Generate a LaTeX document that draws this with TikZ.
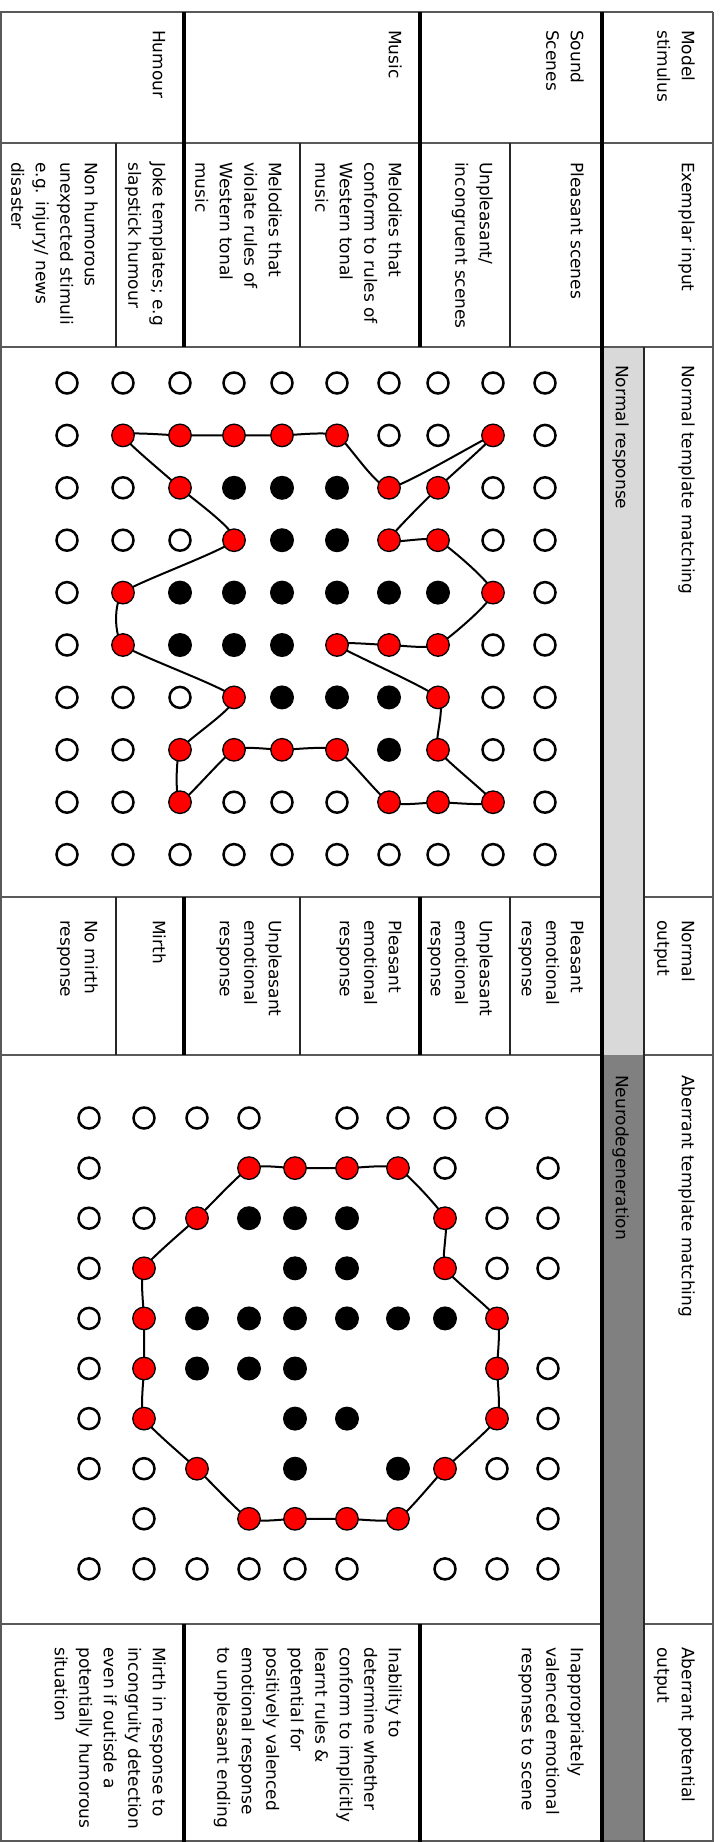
\documentclass[tikz,border=0pt]{standalone}
\usepackage{fontspec}
\setmainfont{DejaVu Sans}
\usetikzlibrary{backgrounds}
\begin{document}
\begin{tikzpicture}[x=1pt,y=-1pt]
\tikzset{
  txt/.style={rotate=-90, anchor=north west, align=left, inner sep=0pt,
    font=\fontsize{17}{24.5}\selectfont, execute at begin node=\vphantom{Ml}},
  opendot/.style={circle, draw=black, line width=2.5pt, fill=white, minimum size=21pt, inner sep=0pt},
  reddot/.style={circle, draw=black, line width=1.3pt, fill=red, minimum size=22.5pt, inner sep=0pt},
  blackdot/.style={circle, fill=black, minimum size=24pt, inner sep=0pt},
  hrule/.style={draw=black!65, line width=1.8pt},
  vfine/.style={draw=black!85, line width=1.5pt},
  vheavy/.style={draw=black, line width=4.2pt},
  outline/.style={line width=2pt, draw=black, line join=round}
}
\useasboundingbox (0,0) rectangle (720,1842);
% gray bands
\fill[black!15] (602,347) rectangle (644,1055);
\fill[black!50] (602,1055) rectangle (644,1842);
% horizontal rules
\draw[hrule] (0,12) -- (713,12);
\draw[hrule] (0,143) -- (713,143);
\draw[hrule] (0,347) -- (713,347);
\draw[hrule] (0,897) -- (602,897) (644,897) -- (713,897);
\draw[hrule] (0,1055) -- (602,1055) (644,1055) -- (713,1055);
\draw[hrule] (0,1624) -- (602,1624) (644,1624) -- (713,1624);
\draw[hrule] (0,1841) -- (713,1841);
% borders
\draw[hrule] (1,12) -- (1,1842);
\draw[hrule] (713,12) -- (713,1842);
% vertical rules
\draw[vfine] (644,347) -- (644,1842);
\foreach \x in {116,300,510}{
  \draw[vfine] (\x,143) -- (\x,347) (\x,897) -- (\x,1055);
}
\foreach \x in {184,420}{
  \draw[vheavy] (\x,12) -- (\x,347) (\x,897) -- (\x,1055) (\x,1624) -- (\x,1842);
}
\draw[vheavy] (602,12) -- (602,1842);

% header row
\node[txt] (hmodel) at (695,30) {Model\\stimulus};
\node[txt] (hsound) at (584,30) {Sound\\Scenes};
\node[txt] (hmusic) at (402,30) {Music};
\node[txt] (hhumour) at (166,30) {Humour};
% exemplar row
\node[txt] (eex) at (695,162) {Exemplar input};
\node[txt] (e1) at (584,162) {Pleasant scenes};
\node[txt] (e2) at (493,162) {Unpleasant/\\incongruent scenes};
\node[txt] (e3) at (402,162) {Melodies that\\conform to rules of\\Western tonal\\music};
\node[txt] (e4) at (282,162) {Melodies that\\violate rules of\\Western tonal\\music};
\node[txt] (e5) at (166,162) {Joke templates; e.g\\slapstick humour};
\node[txt] (e6) at (98,162) {Non humorous\\unexpected stimuli\\e.g. injury/ news\\disaster};
% normal grid row labels
\node[txt] (ntm) at (695,365) {Normal template matching};
\node[txt] (nresp) at (629,365) {Normal response};
% normal output row
\node[txt] (no) at (695,920) {Normal\\output};
\node[txt] (o1) at (584,920) {Pleasant\\emotional\\response};
\node[txt] (o2) at (493,920) {Unpleasant\\emotional\\response};
\node[txt] (o3) at (402,920) {Pleasant\\emotional\\response};
\node[txt] (o4) at (282,920) {Unpleasant\\emotional\\response};
\node[txt] (o5) at (166,920) {Mirth};
\node[txt] (o6) at (98,920) {No mirth\\response};
% aberrant grid row labels
\node[txt] (atm) at (695,1075) {Aberrant template matching};
\node[txt] (aneuro) at (629,1075) {Neurodegeneration};
% aberrant output row
\node[txt] (ao) at (695,1647) {Aberrant potential\\output};
\node[txt] (a1) at (584,1647) {Inappropriately\\valenced emotional\\responses to scene};
\node[txt] (a2) at (402,1647) {Inability to\\determine whether\\conform to implicitly\\learnt rules \&\\potential for\\positively valenced\\emotional response\\to unpleasant ending};
\node[txt] (a3) at (166,1647) {Mirth in response to\\incongruity detection\\even if outisde a\\potentially humorous\\situation};

% ---------- normal grid ----------
\def\NX{{67,123,180,234,282,337,389,438,493,545}}
\foreach \j/\L in {0/{0,1,2,3,4,5,6,7,8,9},1/{0,6,7,9},2/{0,1,8,9},3/{0,1,2,8,9},4/{0,9},5/{0,8,9},6/{0,1,2,8,9},7/{0,1,8,9},8/{0,1,3,4,5,9},9/{0,1,2,3,4,5,6,7,8,9}}{
  \foreach \i in \L {
    \pgfmathsetmacro\xx{\NX[\i]}
    \pgfmathsetmacro\yy{383+52.4*\j}
    \node[opendot] (n-\i-\j) at (\xx,\yy) {};
  }
}
\foreach \i/\j in {3/2,4/2,5/2,4/3,5/3,2/4,3/4,4/4,5/4,6/4,7/4,2/5,3/5,4/5,4/6,5/6,6/6,6/7}{
  \pgfmathsetmacro\xx{\NX[\i]}
  \pgfmathsetmacro\yy{383+52.4*\j}
  \node[blackdot] (n-\i-\j) at (\xx,\yy) {};
}
\foreach \i/\j in {1/1,2/1,3/1,4/1,5/1,8/1,2/2,6/2,7/2,3/3,6/3,7/3,1/4,8/4,1/5,5/5,6/5,7/5,3/6,7/6,2/7,3/7,4/7,5/7,7/7,2/8,6/8,7/8,8/8}{
  \pgfmathsetmacro\xx{\NX[\i]}
  \pgfmathsetmacro\yy{383+52.4*\j}
  \node[reddot] (n-\i-\j) at (\xx,\yy) {};
}
% ---------- aberrant grid ----------
\def\AX{{89,144,197,249,295,347,398,445,497,548}}
\foreach \j/\L in {0/{0,1,2,3,5,6,7,8},1/{0,7,9},2/{0,1,8,9},3/{0,8,9},4/{0},5/{0,9},6/{0,9},7/{0,1,8,9},8/{1,9},9/{0,1,2,3,4,5,7,8,9}}{
  \foreach \i in \L {
    \pgfmathsetmacro\xx{\AX[\i]}
    \pgfmathsetmacro\yy{1118+50.1*\j}
    \node[opendot] (a-\i-\j) at (\xx,\yy) {};
  }
}
\foreach \i/\j in {3/2,4/2,5/2,4/3,5/3,2/4,3/4,4/4,5/4,6/4,7/4,2/5,3/5,4/5,4/6,5/6,4/7,6/7}{
  \pgfmathsetmacro\xx{\AX[\i]}
  \pgfmathsetmacro\yy{1118+50.1*\j}
  \node[blackdot] (a-\i-\j) at (\xx,\yy) {};
}
\foreach \i/\j in {3/1,4/1,5/1,6/1,2/2,7/2,1/3,7/3,1/4,8/4,1/5,8/5,1/6,8/6,2/7,7/7,3/8,4/8,5/8,6/8}{
  \pgfmathsetmacro\xx{\AX[\i]}
  \pgfmathsetmacro\yy{1118+50.1*\j}
  \node[reddot] (a-\i-\j) at (\xx,\yy) {};
}
% ---------- outlines ----------
\begin{scope}[on background layer]
\draw[outline] plot[smooth cycle, tension=0.3] coordinates {
  (n-1-1.center) (n-2-1.center) (n-3-1.center) (n-4-1.center) (n-5-1.center)
  (n-6-2.center) (n-8-1.center) (n-7-2.center) (n-6-3.center) (n-7-3.center)
  (n-8-4.center) (n-7-5.center) (n-6-5.center) (n-5-5.center) (n-7-6.center)
  (n-7-7.center) (n-8-8.center) (n-7-8.center) (n-6-8.center) (n-5-7.center)
  (n-4-7.center) (n-3-7.center) (n-2-8.center) (n-2-7.center) (n-3-6.center)
  (n-1-5.center) (n-1-4.center) (n-3-3.center) (n-2-2.center)};
\draw[outline] plot[smooth cycle, tension=0.3] coordinates {
  (a-3-1.center) (a-4-1.center) (a-5-1.center) (a-6-1.center) (a-7-2.center)
  (a-7-3.center) (a-8-4.center) (a-8-5.center) (a-8-6.center) (a-7-7.center)
  (a-6-8.center) (a-5-8.center) (a-4-8.center) (a-3-8.center) (a-2-7.center)
  (a-1-6.center) (a-1-5.center) (a-1-4.center) (a-1-3.center) (a-2-2.center)};
\end{scope}
\end{tikzpicture}
\end{document}
